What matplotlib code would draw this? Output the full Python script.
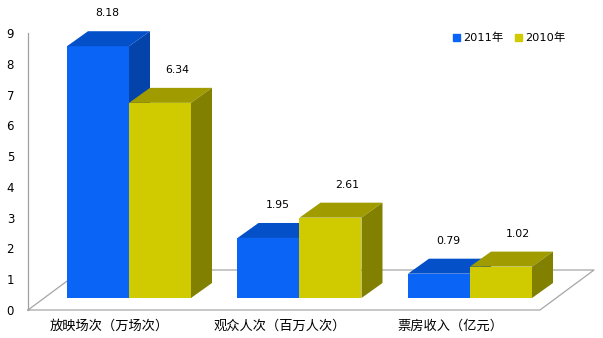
import matplotlib.pyplot as plt
from matplotlib.patches import Patch

plt.rcParams['font.family'] = ['DejaVu Sans', 'Noto Sans CJK SC']

categories = ['放映场次（万场次）', '观众人次（百万人次）', '票房收入（亿元）']
series_names = ['2011年', '2010年']
values_2011 = [8.18, 1.95, 0.79]
values_2010 = [6.34, 2.61, 1.02]
yticks = [0, 1, 2, 3, 4, 5, 6, 7, 8, 9]

# colours: front face, top face, side face
blue = ['#0a64f5', '#0450c8', '#0444aa']
yellow = ['#cfcb00', '#a09c00', '#828000']

# pixel geometry of the fake 3d layout
W, H = 603, 338
px_x = 170.5   # pixels per category
px_y = 30.78   # pixels per unit
x0_px, y0_px = 112, 28

bx, by = 17 / px_x, 12 / px_y      # bar plane in front of the axis plane
dx, dy = 21 / px_x, 15 / px_y      # bar depth
w = 62 / px_x                      # bar width
floor_l, floor_r = (28 - x0_px) / px_x, (540 - x0_px) / px_x
fdx, fdy = 54 / px_x, 40 / px_y    # floor depth

fig = plt.figure(figsize=(W / 100, H / 100), dpi=100)
ax = fig.add_axes([0, 0, 1, 1])
ax.set_xlim(-x0_px / px_x, (W - x0_px) / px_x)
ax.set_ylim(-y0_px / px_y, (H - y0_px) / px_y)

# floor outline
ax.plot([floor_l, floor_r, floor_r + fdx, floor_l + fdx, floor_l],
        [0, 0, fdy, fdy, 0], color='#a6a6a6', lw=0.9, zorder=1)


def draw_bars(offset, vals, cols):
    xs = [i + bx + offset for i in range(len(vals))]
    ax.bar(xs, vals, width=w, bottom=by, align='edge', color=cols[0],
           linewidth=0, zorder=2)
    for L, v in zip(xs, vals):
        R, T = L + w, by + v
        ax.fill([L, R, R + dx, L + dx], [T, T, T + dy, T + dy],
                color=cols[1], lw=0, zorder=2)
        ax.fill([R, R + dx, R + dx, R], [by, by + dy, T + dy, T],
                color=cols[2], lw=0, zorder=2)


draw_bars(-w, values_2011, blue)
draw_bars(0, values_2010, yellow)

# value labels above the bar tops
for offset, vals, nudge in [(-w, values_2011, 9), (0, values_2010, 17)]:
    for i, v in enumerate(vals):
        ax.annotate(f'{v:.2f}', (i + bx + offset + w / 2, by + v + dy),
                    xytext=(nudge * 0.72, 18 * 0.72), textcoords='offset points',
                    ha='center', va='center', fontsize=7.8, color='black')

for s in ['top', 'right', 'bottom']:
    ax.spines[s].set_visible(False)
ax.spines['left'].set_position(('data', floor_l))
ax.spines['left'].set_bounds(0, 9)
ax.spines['left'].set_color('#a0a0a0')
ax.spines['left'].set_linewidth(0.9)
ax.spines['bottom'].set_position(('data', 0))

ax.set_yticks(yticks)
ax.set_yticklabels([str(t) for t in yticks])
ax.tick_params(axis='y', length=0, pad=10, labelsize=8.5)
ax.set_xticks([i - 3 / px_x for i in range(len(categories))])
ax.set_xticklabels(categories, fontfamily=['Noto Sans CJK SC'])
ax.tick_params(axis='x', length=0, pad=7, labelsize=9.5)

handles = [Patch(color=blue[0]), Patch(color=yellow[0])]
ax.legend(handles, series_names, loc='center left', ncol=2, frameon=False,
          bbox_to_anchor=(453 / W, 1 - 38 / H), bbox_transform=fig.transFigure,
          fontsize=8.2, handlelength=0.6, handleheight=0.6, handletextpad=0.3,
          columnspacing=1.0, borderpad=0, borderaxespad=0)

fig.savefig('out.png', dpi=100)
